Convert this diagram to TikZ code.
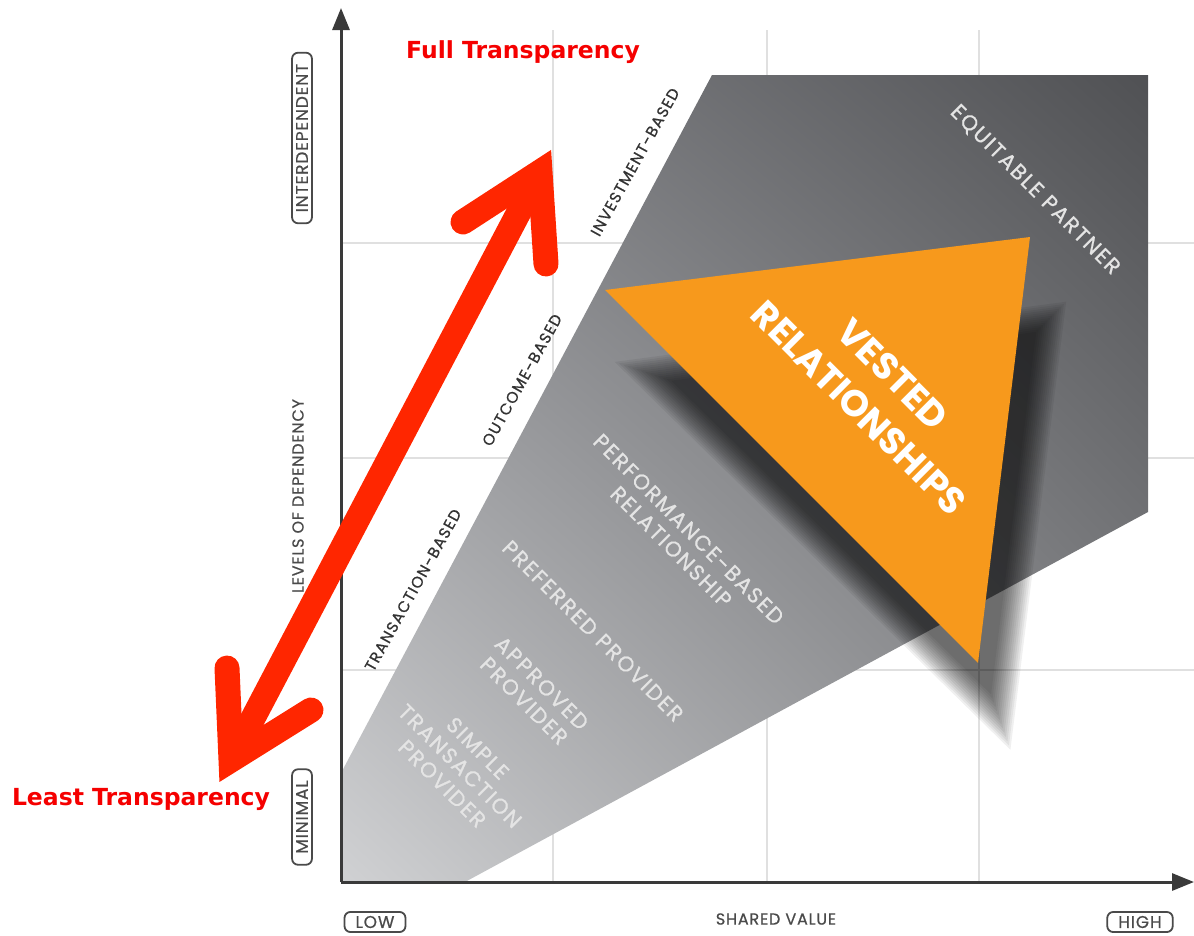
\documentclass[tikz,border=0pt]{standalone}
\usepackage{fontspec}
\usetikzlibrary{arrows.meta,shadings}
\newfontfamily\popf{Poppins}
\newfontfamily\popm{Poppins}[FakeBold=0.8, LetterSpace=8]
\newfontfamily\popa{Poppins}[FakeBold=0.6, LetterSpace=5]
\newfontfamily\djvf{DejaVu Sans}
\definecolor{gridc}{HTML}{E0E0E0}
\definecolor{axisc}{HTML}{3A3A3A}
\definecolor{boxc}{HTML}{4A4A4A}
\definecolor{gll}{HTML}{D0D1D3}
\definecolor{gul}{HTML}{85868A}
\definecolor{glr}{HTML}{8A8B8E}
\definecolor{gur}{HTML}{505154}
\definecolor{orangec}{HTML}{F7991C}
\definecolor{redc}{HTML}{FF2600}
\definecolor{redt}{HTML}{F50000}
\definecolor{inlabc}{HTML}{E4E4E4}
\definecolor{edgec}{HTML}{333333}
\begin{document}
\begin{tikzpicture}[x=1pt,y=-1pt,
  gridline/.style={draw=gridc, line width=1.5pt},
  axisline/.style={draw=axisc, line width=3pt, -{Triangle[length=22pt,width=17pt]}},
  boxlab/.style={draw=boxc, line width=1.8pt, rounded corners=6pt, inner xsep=11pt, inner ysep=4pt, text=boxc, font=\popa\fontsize{17}{17}\selectfont},
  axlab/.style={text=boxc, font=\popa\fontsize{16}{16}\selectfont},
  edgelab/.style={text=edgec, font=\popm\fontsize{15.5}{15.5}\selectfont, inner sep=0pt},
  inlab/.style={text=inlabc, font=\popm\fontsize{21.5}{25}\selectfont, align=center, inner sep=0pt},
  vestlab/.style={text=white, font=\popf\bfseries\fontsize{37}{48}\selectfont, align=center, inner sep=0pt},
  redlab/.style={text=redt, font=\djvf\bfseries\fontsize{23.5}{28}\selectfont, inner sep=0pt},
  redarrow/.style={draw=redc, line width=25pt, line cap=round, line join=miter}
]
\useasboundingbox (0,0) rectangle (1194,935);
% grid
\foreach \gx in {553,767,979} \draw[gridline] (\gx,30) -- (\gx,882);
\foreach \gy in {243,458,670} \draw[gridline] (341,\gy) -- (1194,\gy);
% grey fan
\shade[lower left=gll, upper left=gul, lower right=glr, upper right=gur]
  (341,773) -- (712,75) -- (1148,75) -- (1148,512) -- (465,882) -- (341,882) -- cycle;
% soft shadow of the triangle: layered fills scaled about its incentre
\coordinate (SI) at (909.2,460.0);
\foreach \off in {-12,-10,...,14}{
  \pgfmathsetmacro{\sf}{1+\off/122.1}
  \fill[black, opacity=0.06, scale around={\sf:(SI)}]
    (645,372) -- (1050,318) -- (1000,720) -- cycle;
}
% orange triangle
\fill[orangec] (605,290) coordinate (T1) -- (1030,237) coordinate (T2) -- (978,663) coordinate (T3) -- cycle;
% axes
\coordinate (O) at (341,882);
\coordinate (Ytop) at (341,8);
\coordinate (Xend) at (1194,882);
\draw[axisline] (O) -- (Ytop);
\draw[axisline] (O) -- (Xend);
% axis labels
\node[boxlab, rotate=90] (inter) at (302,138) {INTERDEPENDENT};
\node[boxlab, rotate=90] (minim) at (302,817) {MINIMAL};
\node[axlab, rotate=90] (levels) at (298,496) {LEVELS OF DEPENDENCY};
\node[boxlab] (low) at (375,922) {LOW};
\node[axlab] (shared) at (776,919) {SHARED VALUE};
\node[boxlab] (high) at (1140,922) {HIGH};
% edge labels
\node[edgelab, rotate=61] (tb) at (413,590) {TRANSACTION-BASED};
\node[edgelab, rotate=61] (ob) at (522,380) {OUTCOME-BASED};
\node[edgelab, rotate=61] (ib) at (635,162) {INVESTMENT-BASED};
% inner labels
\node[inlab, rotate=-45] (eq) at (1035,190) {EQUITABLE PARTNER};
\node[inlab, rotate=-45] (perf) at (680,538) {PERFORMANCE-BASED\\RELATIONSHIP};
\node[inlab, rotate=-45] (pref) at (593,631) {PREFERRED PROVIDER};
\node[inlab, rotate=-45] (appr) at (533,692) {APPROVED\\PROVIDER};
\node[inlab, rotate=-45] (simp) at (460,766) {SIMPLE\\TRANSACTION\\PROVIDER};
\node[vestlab, rotate=-45] (vest) at (876,391) {VESTED\\RELATIONSHIPS};
% red double arrow
\coordinate (V1) at (540,172);
\coordinate (A1) at (463,222);
\coordinate (A2) at (546,264);
\coordinate (V2) at (231,760);
\coordinate (B1) at (227,668);
\coordinate (B2) at (311,710);
\draw[redarrow, line cap=butt] (V1) -- (V2);
\draw[redarrow] (A1) -- (V1) -- (A2);
\draw[redarrow] (B1) -- (V2) -- (B2);
% red labels
\node[redlab] (full) at (523,52) {Full Transparency};
\node[redlab] (least) at (141,799) {Least Transparency};
\end{tikzpicture}
\end{document}
